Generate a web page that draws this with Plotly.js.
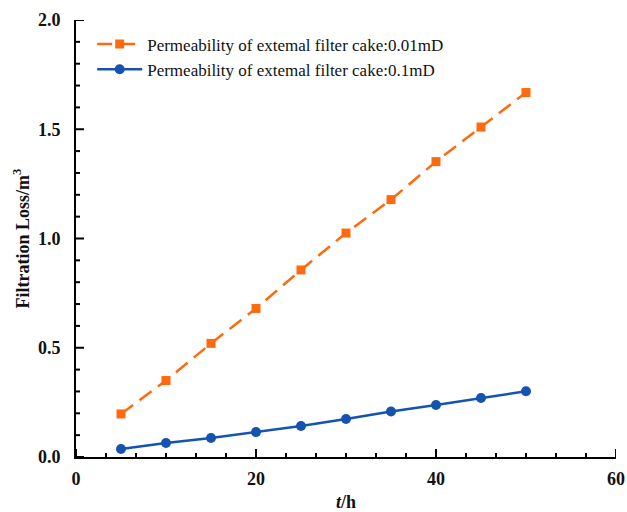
<!DOCTYPE html>
<html>
<head>
<meta charset="utf-8">
<script src="https://cdn.plot.ly/plotly-3.0.1.min.js"></script>
<style>html,body{margin:0;padding:0;background:#fff;}#chart{width:627px;height:512px;}</style>
</head>
<body>
<div id="chart"></div>
<script>
const timeH = [5, 10, 15, 20, 25, 30, 35, 40, 45, 50];
const lossK001 = [0.197, 0.35, 0.52, 0.68, 0.856, 1.025, 1.178, 1.352, 1.51, 1.668];
const lossK01 = [0.037, 0.064, 0.087, 0.114, 0.142, 0.174, 0.208, 0.238, 0.27, 0.301];
const seriesNames = ["Permeability of extemal filter cake:0.01mD", "Permeability of extemal filter cake:0.1mD"];
const xRange = [0, 60], yRange = [0, 2.0];
const xMajor = 20, xMinor = 20 / 6, yMajor = 0.5, yMinor = 0.1;

const serif = "Liberation Serif";
const plotW = 627 - 76 - 11, plotH = 512 - 20 - 55;
const majLen = 8, minLen = 4;

function tickVals(range, step, skipStep) {
  const out = [];
  const n = Math.round((range[1] - range[0]) / step);
  for (let i = 0; i <= n; i++) {
    const v = range[0] + i * step;
    if (skipStep) {
      const r = v / skipStep;
      if (Math.abs(r - Math.round(r)) < 1e-6) continue;
    }
    out.push(v);
  }
  return out;
}
const xMaj = tickVals(xRange, xMajor), xMin = tickVals(xRange, xMinor, xMajor);
const yMaj = tickVals(yRange, yMajor), yMin = tickVals(yRange, yMinor, yMajor);

const traces = [
  {x: timeH, y: lossK001, name: seriesNames[0], mode: "lines+markers",
   line: {color: "#FF6A0E", width: 2.5, dash: "15px,8px"},
   marker: {symbol: "square", size: 9, color: "#FF6A0E"}},
  {x: timeH, y: lossK01, name: seriesNames[1], mode: "lines+markers",
   line: {color: "#1553B0", width: 2.5},
   marker: {symbol: "circle", size: 10, color: "#1553B0"}}
];
// inside tick marks, drawn as short line segments on pixel-unit overlay axes
function segs(vals, len, vertical) {
  const a = [], b = [];
  vals.forEach(v => { a.push(v, v, null); b.push(0, len, null); });
  return vertical ? {x: a, y: b} : {x: b, y: a};
}
function tickTrace(s, xa, ya) {
  return {x: s.x, y: s.y, xaxis: xa, yaxis: ya, mode: "lines", showlegend: false, hoverinfo: "skip",
          cliponaxis: false, connectgaps: false, line: {color: "#000", width: 2}};
}
traces.push(tickTrace(segs(xMaj, majLen, true), "x", "y2"));
traces.push(tickTrace(segs(xMin, minLen, true), "x", "y2"));
traces.push(tickTrace(segs(yMaj, majLen, false), "x2", "y"));
traces.push(tickTrace(segs(yMin, minLen, false), "x2", "y"));

const layout = {
  width: 627, height: 512,
  margin: {l: 76, r: 11, t: 20, b: 55},
  paper_bgcolor: "#fff", plot_bgcolor: "#fff",
  showlegend: true,
  font: {family: serif},
  legend: {x: 0.03, y: 0.985, xanchor: "left", yanchor: "top", bgcolor: "rgba(0,0,0,0)",
           font: {family: serif, size: 17, color: "#111"}, itemwidth: 45, tracegroupgap: 0},
  xaxis: {range: xRange, dtick: xMajor, tick0: 0, ticks: "",
          showline: true, linewidth: 2, linecolor: "#000", showgrid: false, zeroline: false,
          ticklabelstandoff: 4,
          tickfont: {family: serif, size: 18, color: "#111", weight: "bold"},
          title: {text: "<i>t</i>/h", font: {family: serif, size: 18, color: "#111", weight: "bold"}, standoff: 12}},
  yaxis: {range: yRange, dtick: yMajor, tick0: 0, ticks: "", tickformat: ".1f",
          showline: true, linewidth: 2, linecolor: "#000", showgrid: false, zeroline: false,
          ticklabelstandoff: 10,
          tickfont: {family: serif, size: 18, color: "#111", weight: "bold"},
          title: {text: "Filtration Loss/m<sup>3</sup>", font: {family: serif, size: 18, color: "#111", weight: "bold"}, standoff: 4}},
  xaxis2: {overlaying: "x", range: [0, plotW], visible: false, fixedrange: true},
  yaxis2: {overlaying: "y", range: [0, plotH], visible: false, fixedrange: true}
};
Plotly.newPlot("chart", traces, layout, {staticPlot: true, displayModeBar: false});
</script>
</body>
</html>
